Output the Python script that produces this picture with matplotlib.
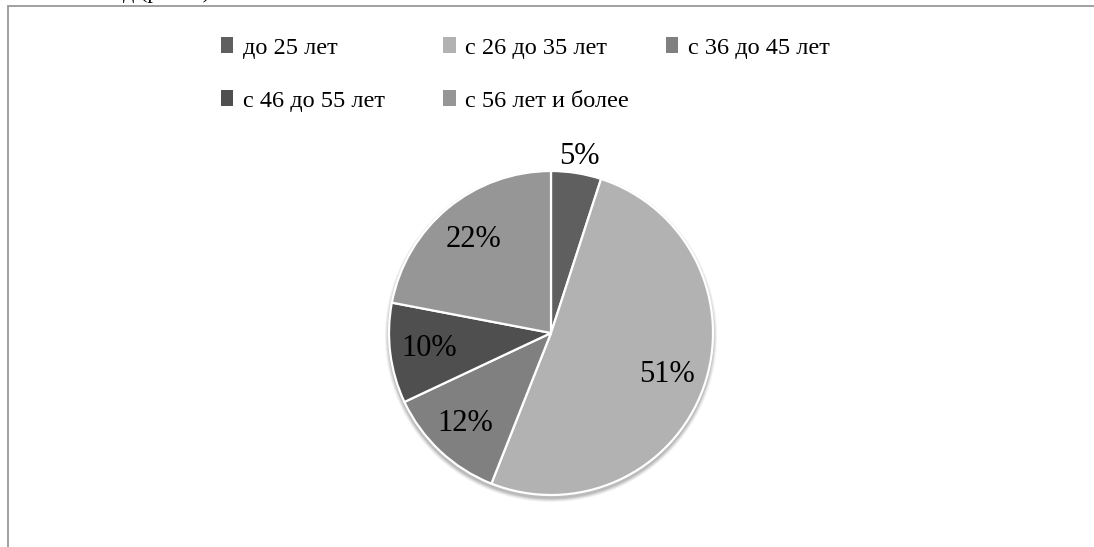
import matplotlib
matplotlib.use("Agg")
import matplotlib.pyplot as plt
from matplotlib.patches import Patch, Rectangle, Circle
import numpy as np

plt.rcParams['font.family'] = ['Liberation Serif', 'DejaVu Serif']

categories = ["до 25 лет", "с 26 до 35 лет", "с 36 до 45 лет",
              "с 46 до 55 лет", "с 56 лет и более"]
values = [5, 51, 12, 10, 22]
colors = ["#5f5f5f", "#b2b2b2", "#808080", "#4f4f4f", "#969696"]
label_dist = [1.10, 0.76, 0.77, 0.76, 0.75]

W, H = 1094, 547
fig = plt.figure(figsize=(W / 100, H / 100), dpi=100)
ax = fig.add_axes([0, 0, 1, 1])
ax.set_xlim(0, W)
ax.set_ylim(0, H)
ax.set_aspect('equal')
ax.axis('off')

cx, cy, R = 551, H - 333, 162

# soft shadow
for k, a in enumerate([0.05, 0.06, 0.08, 0.10]):
    ax.add_patch(Circle((cx, cy - 3), R + 4 - k, color='black', alpha=a, lw=0, zorder=1))

wedges, _ = ax.pie(values, colors=colors, startangle=90, counterclock=False,
                   center=(cx, cy), radius=R, frame=True,
                   wedgeprops=dict(edgecolor='white', linewidth=1.6, zorder=2))
ax.set_xlim(0, W)
ax.set_ylim(0, H)
ax.axis('off')

for w, v, d in zip(wedges, values, label_dist):
    ang = np.deg2rad((w.theta1 + w.theta2) / 2)
    ax.text(cx + d * R * np.cos(ang), cy + d * R * np.sin(ang), f"{v}%",
            ha='center', va='center', fontsize=22, color='black', zorder=5)

# legend: grid of entries
x0, colw = 221 / W, 222.5 / W
rows_y = [1 - 48 / H, 1 - 101 / H]
for i, (lab, c) in enumerate(zip(categories, colors)):
    r, col = divmod(i, 3)
    fig.legend(handles=[Patch(facecolor=c, edgecolor='none')], labels=[lab],
               loc='center left', bbox_to_anchor=(x0 + col * colw, rows_y[r]),
               frameon=False, borderpad=0, borderaxespad=0,
               handlelength=0.5, handleheight=0.6, handletextpad=0.4,
               fontsize=17.5)

# chart border
fig.patches.append(Rectangle((7.5 / W, -0.2), 2, 1.2 - 5.5 / H,
                             transform=fig.transFigure, fill=False,
                             edgecolor='#999999', linewidth=1.3))
# cut-off text above chart
fig.text(210 / W, 1 + 2 / H, "д (рис. 1)", ha='right', va='baseline',
         fontsize=16, color='black')

fig.savefig("out.png", dpi=100)
